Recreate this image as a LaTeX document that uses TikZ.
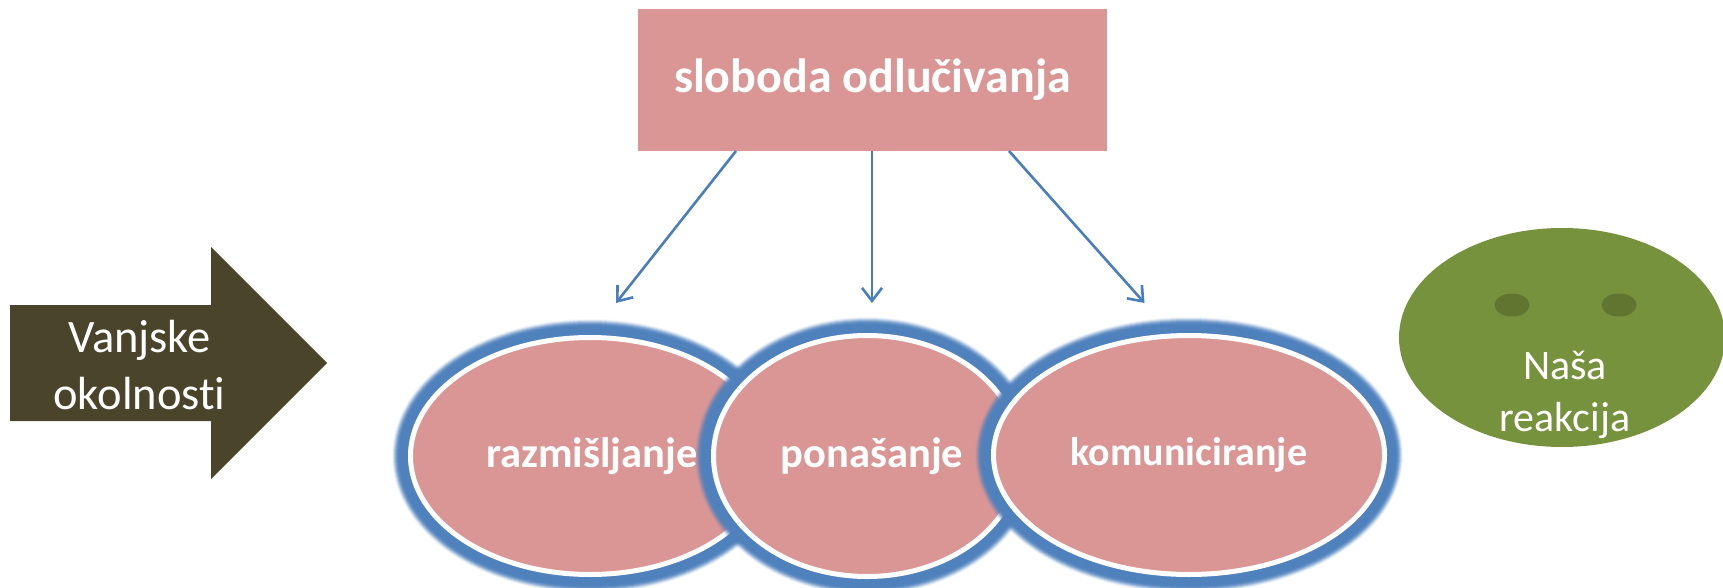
\documentclass[tikz,border=0pt]{standalone}
\usepackage{fontspec}
\setmainfont[RawFeature={-liga}]{Carlito}
\usetikzlibrary{shapes.geometric,arrows.meta}
\definecolor{pinkfill}{HTML}{D99694}
\definecolor{glowblue}{HTML}{4F81BD}
\definecolor{linkblue}{HTML}{4A7EBB}
\definecolor{olivedark}{HTML}{4A452A}
\definecolor{leaf}{HTML}{76923C}
\definecolor{leafdark}{HTML}{5F7530}
\tikzset{
  topbox/.style={rectangle,fill=pinkfill,inner sep=0pt,text=white,font=\fontsize{48}{56}\selectfont\bfseries},
  petal/.style={ellipse,fill=pinkfill,draw=white,line width=5pt,inner sep=0pt,text=white,font=\fontsize{42.5}{50}\selectfont\bfseries},
  link/.style={draw=linkblue,line width=2.6pt,-{Straight Barb[length=13pt,width=20pt,line width=2.6pt]}},
  eyespot/.style={ellipse,fill=leafdark,inner sep=0pt,minimum width=35pt,minimum height=23pt},
}
% centre x, centre y, radius x, radius y: soft blue halo
\newcommand{\halo}[4]{%
  \foreach \d in {16,15,...,4}{%
    \pgfmathsetmacro{\op}{min(1,0.07+0.09*(16-\d))}%
    \draw[glowblue,draw opacity=\op,line width=2*\d pt] (#1,#2) ellipse [x radius=#3,y radius=#4];
  }%
}
\begin{document}
\begin{tikzpicture}[x=1pt,y=-1pt]
\useasboundingbox (0,0) rectangle (1723,588);
\fill[white] (0,0) rectangle (1723,588);

% outside-circumstances arrow
\fill[olivedark] (10,305) -- (211,305) -- (211,247) -- (327,363) -- (211,479) -- (211,421) -- (10,421) -- cycle;
\node[text=white,align=center,font=\fontsize{46.5}{57}\selectfont] (extlabel) at (139.5,365) {Vanjske\\okolnosti};

% top box
\node[topbox,minimum width=469pt,minimum height=142pt] (top) at (872.5,80) {\raisebox{-5pt}{sloboda odlučivanja}};

% petals
\halo{590}{456}{182}{121}
\node[petal,minimum width=359pt,minimum height=237pt] (think) at (590,456) {\raisebox{-5pt}{\hspace*{4pt}razmišljanje}};
\halo{867}{456}{156}{123}
\node[petal,minimum width=307pt,minimum height=241pt] (act) at (867,456) {\raisebox{-5pt}{\hspace*{10pt}ponašanje}};
\halo{1189}{455}{198}{122}
\node[petal,minimum width=391pt,minimum height=239pt,font=\fontsize{40}{48}\selectfont\bfseries] (talk) at (1189,455) {\raisebox{-1pt}{komuniciranje}};

% connectors
\coordinate (s1) at (736,151);
\coordinate (s2) at (872,151);
\coordinate (s3) at (1009,151);
\coordinate (t1) at (616,303);
\coordinate (t2) at (872,303);
\coordinate (t3) at (1144.5,303);
\draw[link] (s1) -- (t1);
\draw[link] (s2) -- (t2);
\draw[link] (s3) -- (t3);

% face
\node[ellipse,fill=leaf,inner sep=0pt,minimum width=326pt,minimum height=219pt] (face) at (1562,337.5) {};
\node[eyespot] (eyeL) at (1512,305) {};
\node[eyespot] (eyeR) at (1619,305) {};
\node[text=white,align=center,font=\fontsize{42}{52}\selectfont] (react) at (1565,395) {Naša\\reakcija};
\end{tikzpicture}
\end{document}
